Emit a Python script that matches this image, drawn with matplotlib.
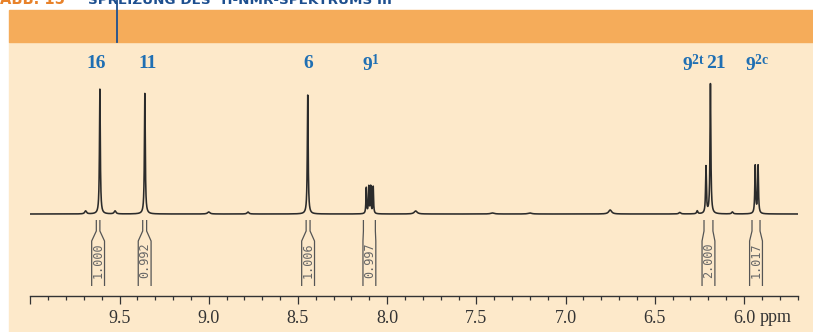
import numpy as np
import matplotlib.pyplot as plt
from matplotlib.patches import Rectangle

plt.rcParams['mathtext.fontset'] = 'custom'
plt.rcParams['mathtext.rm'] = 'Liberation Serif:bold'
plt.rcParams['mathtext.it'] = 'Liberation Serif:bold'
plt.rcParams['mathtext.bf'] = 'Liberation Serif:bold'

# peak list: shift (ppm), height (arbitrary units), half width (ppm)
peak_ppm = [9.610, 9.358, 8.445,
            8.117, 8.103, 8.092, 8.078,
            6.213, 6.188, 5.937, 5.921,
            9.690, 9.525, 9.000, 8.780, 7.840, 7.410, 7.200,
            6.750, 6.360, 6.262, 6.065]
peak_height = [125, 121, 119,
               26, 27, 27, 27,
               47, 130, 48, 48,
               3, 3, 2, 2, 3, 1, 1,
               4, 1.5, 3, 2]
peak_width = [0.0028, 0.0028, 0.0028,
              0.0022, 0.0022, 0.0022, 0.0022,
              0.0027, 0.0028, 0.0027, 0.0027,
              0.006, 0.006, 0.008, 0.006, 0.010, 0.012, 0.012,
              0.010, 0.006, 0.004, 0.005]

# integration regions (ppm) and values
int_from = [9.630, 9.370, 8.454, 8.133, 6.224, 5.955]
int_to = [9.610, 9.348, 8.432, 8.066, 6.174, 5.910]
int_value = ["1.000", "0.992", "1.006", "0.997", "2.000", "1.017"]

# assignment labels
label_text = ["16", "11", "6", r"$9^{1}$", r"$9^{2t}$", "21", r"$9^{2c}$"]
label_ppm = [9.630, 9.345, 8.440, 8.090, 6.285, 6.155, 5.928]

tick_major = [10.0, 9.5, 9.0, 8.5, 8.0, 7.5, 7.0, 6.5, 6.0]
tick_labels = ["", "9.5", "9.0", "8.5", "8.0", "7.5", "7.0", "6.5", "6.0"]

W, H = 813, 332
fig = plt.figure(figsize=(W / 100, H / 100), dpi=100)
fig.patch.set_facecolor("white")

def px(x0, y0, w, h):
    # pixel box (top-left origin) -> figure fraction
    return (x0 / W, 1 - (y0 + h) / H), w / W, h / H

beige = "#FDE9CA"
orange = "#F5AC5A"
blue = "#1F6FB3"

xy, w, h = px(9, 42, W - 9, H - 42)
fig.patches.append(Rectangle(xy, w, h, transform=fig.transFigure, color=beige, zorder=-2))
xy, w, h = px(9, 10, W - 9, 32)
fig.patches.append(Rectangle(xy, w, h, transform=fig.transFigure, color=orange, zorder=-2))
fig.add_artist(plt.Line2D([117 / W, 117 / W], [1, 1 - 42 / H], transform=fig.transFigure,
                          color="#1D4F8F", lw=1.3))

# header text, cut off at the top edge
fig.text(0 / W, 1 - 4 / H, "ABB. 15", color="#E8822A", fontsize=10.5, fontweight="bold",
         va="baseline", family="DejaVu Sans")
fig.text(88 / W, 1 - 4 / H, "SPREIZUNG DES ¹H-NMR-SPEKTRUMS III", color="#1D4F8F",
         fontsize=9.7, fontweight="bold", va="baseline", family="DejaVu Sans")

# axes: y units are pixels, baseline of spectrum at 0
left, right, top, bottom = 30.3, 797.5, 42, 296
ax = fig.add_axes([left / W, 1 - bottom / H, (right - left) / W, (bottom - top) / H])
ax.patch.set_visible(False)
ax.set_xlim(10.0, 5.7)
ax.set_ylim(-(bottom - 214), 214 - top)

x = np.linspace(10.0, 5.7, 12000)
y = np.zeros_like(x)
for p, a, g in zip(peak_ppm, peak_height, peak_width):
    y += a * g ** 2 / ((x - p) ** 2 + g ** 2)
ax.plot(x, y, color="#2B2B2B", lw=1.15, zorder=3)

# integral brackets
min_w = 0.072
for a, b, v in zip(int_from, int_to, int_value):
    c = (a + b) / 2
    half = max(abs(a - b), min_w) / 2
    for side, edge in ((-1, max(a, b)), (1, min(a, b))):
        xo = c - side * half
        ax.plot([edge, edge, xo, xo], [-6, -17, -27, -72], color="#555555", lw=0.9,
                solid_capstyle="butt")
    ax.text(c, -46, v, rotation=90, ha="center", va="center", fontsize=8.5,
            family="DejaVu Sans Mono", color="#666666")

for t, p in zip(label_text, label_ppm):
    ax.text(p, 150, t, ha="center", va="center", fontsize=14, fontweight="bold",
            family="Liberation Serif", color=blue)

for s in ("top", "left", "right"):
    ax.spines[s].set_visible(False)
ax.spines["bottom"].set_color("#333333")
ax.spines["bottom"].set_linewidth(1.0)
ax.set_yticks([])
ax.set_xticks(tick_major)
ax.set_xticklabels(tick_labels, family="Liberation Serif", fontsize=13, color="#333333")
ax.set_xticks(np.arange(5.7, 10.0, 0.1), minor=True)
ax.tick_params(axis="x", which="major", direction="out", length=6, width=0.9,
               color="#333333", pad=4)
ax.tick_params(axis="x", which="minor", direction="out", length=3, width=0.9,
               color="#333333")
ax.text(5.82, -bottom + 214 - 22, "ppm", ha="center", va="center",
        family="Liberation Serif", fontsize=13, color="#333333")

fig.savefig("out.png", dpi=100)
